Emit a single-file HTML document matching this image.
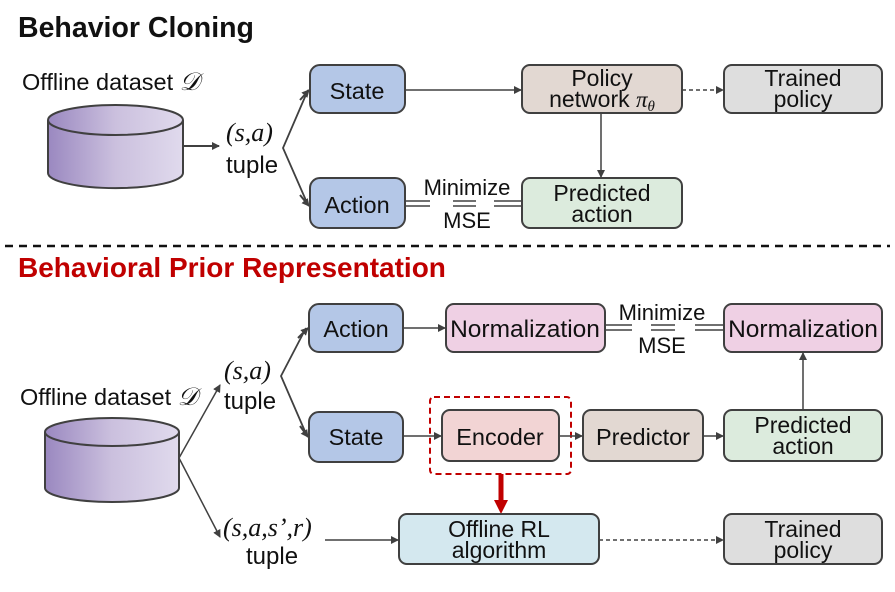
<!DOCTYPE html>
<html><head><meta charset="utf-8"><style>
html,body{margin:0;padding:0;background:#fff;}
svg text{font-family:"Liberation Sans",sans-serif;fill:#111;}
.m{font-family:"Liberation Serif",serif;font-style:italic;}
</style></head><body>
<svg width="895" height="587" viewBox="0 0 895 587" xmlns="http://www.w3.org/2000/svg">
<defs>
<marker id="a" markerWidth="8" markerHeight="8" refX="7" refY="4" orient="auto" markerUnits="userSpaceOnUse"><path d="M0,0 L8,4 L0,8 z" fill="#404040"/></marker>
<linearGradient id="g" x1="0" x2="1" y1="0" y2="0"><stop offset="0" stop-color="#9a88c0"/><stop offset="0.5" stop-color="#cbc0de"/><stop offset="1" stop-color="#e0daed"/></linearGradient>
</defs>
<g stroke="#404040" stroke-width="2" fill="none">
<path d="M48,120 L48,173 A67,15 0 0 0 183,173 L183,120" fill="url(#g)"/>
<ellipse cx="115.5" cy="120" rx="67.5" ry="15" fill="url(#g)"/>
<line x1="183" y1="146" x2="219" y2="146" marker-end="url(#a)"/>
<polyline points="308,90 283,148 308,205" stroke-width="1.8"/>
<line x1="300" y1="100" x2="309" y2="90" marker-end="url(#a)"/>
<line x1="300" y1="195" x2="309" y2="206" marker-end="url(#a)"/>
<rect x="310" y="65" width="95" height="48" rx="10" fill="#b4c7e7"/>
<rect x="522" y="65" width="160" height="48" rx="8" fill="#e2d8d2"/>
<rect x="724" y="65" width="158" height="48" rx="8" fill="#dedede"/>
<line x1="405" y1="90" x2="521" y2="90" stroke-width="1.5" marker-end="url(#a)"/>
<line x1="682" y1="90" x2="723" y2="90" stroke-width="1.5" stroke-dasharray="4,3" marker-end="url(#a)"/>
<line x1="601" y1="113" x2="601" y2="177" stroke-width="1.5" marker-end="url(#a)"/>
<rect x="310" y="178" width="95" height="50" rx="10" fill="#b4c7e7"/>
<rect x="522" y="178" width="160" height="50" rx="8" fill="#dcebdd"/>
<g stroke-width="1.5"><path d="M405,201 H430 M405,206 H430 M453,201 H476 M453,206 H476 M494,201 H522 M494,206 H522"/></g>
<line x1="5" y1="246" x2="890" y2="246" stroke="#111" stroke-width="2.5" stroke-dasharray="8,6"/>
<path d="M45,432 L45,488 A67,14 0 0 0 179,488 L179,432" fill="url(#g)"/>
<ellipse cx="112" cy="432" rx="67" ry="14" fill="url(#g)"/>
<line x1="179" y1="458" x2="220" y2="385" stroke-width="1.5" marker-end="url(#a)"/>
<line x1="179" y1="458" x2="220" y2="537" stroke-width="1.5" marker-end="url(#a)"/>
<polyline points="306,328 281,376 307,436" stroke-width="1.8"/>
<line x1="298" y1="338" x2="308" y2="328" marker-end="url(#a)"/>
<line x1="300" y1="426" x2="308" y2="437" marker-end="url(#a)"/>
<rect x="309" y="304" width="94" height="48" rx="10" fill="#b4c7e7"/>
<rect x="446" y="304" width="159" height="48" rx="8" fill="#efd0e4"/>
<rect x="724" y="304" width="158" height="48" rx="8" fill="#efd0e4"/>
<line x1="403" y1="328" x2="445" y2="328" stroke-width="1.5" marker-end="url(#a)"/>
<g stroke-width="1.5"><path d="M605,325 H632 M605,330 H632 M651,325 H675 M651,330 H675 M695,325 H724 M695,330 H724"/></g>
<rect x="309" y="412" width="94" height="50" rx="10" fill="#b4c7e7"/>
<rect x="442" y="410" width="117" height="51" rx="8" fill="#f2d4d4"/>
<rect x="583" y="410" width="120" height="51" rx="8" fill="#e2d8d2"/>
<rect x="724" y="410" width="158" height="51" rx="8" fill="#dcebdd"/>
<rect x="430" y="397" width="141" height="77" rx="4" stroke="#c00000" stroke-dasharray="6,4"/>
<line x1="403" y1="436" x2="441" y2="436" stroke-width="1.5" marker-end="url(#a)"/>
<line x1="559" y1="436" x2="582" y2="436" stroke-width="1.5" marker-end="url(#a)"/>
<line x1="703" y1="436" x2="723" y2="436" stroke-width="1.5" marker-end="url(#a)"/>
<line x1="803" y1="410" x2="803" y2="353" stroke-width="1.5" marker-end="url(#a)"/>
<line x1="501" y1="474" x2="501" y2="502" stroke="#c00000" stroke-width="5"/>
<path d="M494,500 L508,500 L501,514 z" fill="#c00000" stroke="none"/>
<rect x="399" y="514" width="200" height="50" rx="8" fill="#d4e8ef"/>
<rect x="724" y="514" width="158" height="50" rx="8" fill="#dedede"/>
<line x1="325" y1="540" x2="398" y2="540" stroke-width="1.5" marker-end="url(#a)"/>
<line x1="599" y1="540" x2="723" y2="540" stroke-width="1.5" stroke-dasharray="4,3" marker-end="url(#a)"/>
</g>
<text x="18" y="37" font-size="28.5" font-weight="bold">Behavior Cloning</text>
<text x="22" y="90" font-size="23.5">Offline dataset <tspan class="m" font-size="25">𝒟</tspan></text>
<text x="226" y="141" font-size="26" class="m">(s,a)</text>
<text x="226" y="173" font-size="24">tuple</text>
<text x="357" y="99" font-size="23.5" text-anchor="middle">State</text>
<text x="602" y="86" font-size="23" text-anchor="middle">Policy</text>
<text x="602" y="107" font-size="23" text-anchor="middle">network <tspan class="m">π</tspan><tspan class="m" font-size="15" dy="4">θ</tspan></text>
<text x="803" y="86" font-size="23" text-anchor="middle">Trained</text>
<text x="803" y="107" font-size="23" text-anchor="middle">policy</text>
<text x="357" y="213" font-size="23.5" text-anchor="middle">Action</text>
<text x="602" y="201" font-size="23" text-anchor="middle">Predicted</text>
<text x="602" y="222" font-size="23" text-anchor="middle">action</text>
<text x="467" y="195" font-size="22" text-anchor="middle">Minimize</text>
<text x="467" y="228" font-size="22" text-anchor="middle">MSE</text>
<text x="18" y="277" font-size="28" font-weight="bold" style="fill:#c00000">Behavioral Prior Representation</text>
<text x="20" y="405" font-size="23.5">Offline dataset <tspan class="m" font-size="25">𝒟</tspan></text>
<text x="224" y="379" font-size="26" class="m">(s,a)</text>
<text x="224" y="409" font-size="24">tuple</text>
<text x="356" y="337" font-size="23.5" text-anchor="middle">Action</text>
<text x="525" y="337" font-size="24.5" text-anchor="middle">Normalization</text>
<text x="803" y="337" font-size="24.5" text-anchor="middle">Normalization</text>
<text x="662" y="320" font-size="22" text-anchor="middle">Minimize</text>
<text x="662" y="353" font-size="22" text-anchor="middle">MSE</text>
<text x="356" y="445" font-size="23.5" text-anchor="middle">State</text>
<text x="500" y="445" font-size="23.5" text-anchor="middle">Encoder</text>
<text x="643" y="445" font-size="23.5" text-anchor="middle">Predictor</text>
<text x="803" y="433" font-size="23" text-anchor="middle">Predicted</text>
<text x="803" y="454" font-size="23" text-anchor="middle">action</text>
<text x="223" y="536" font-size="26" class="m">(s,a,s’,r)</text>
<text x="246" y="564" font-size="24">tuple</text>
<text x="499" y="537" font-size="23" text-anchor="middle">Offline RL</text>
<text x="499" y="558" font-size="23" text-anchor="middle">algorithm</text>
<text x="803" y="537" font-size="23" text-anchor="middle">Trained</text>
<text x="803" y="558" font-size="23" text-anchor="middle">policy</text>
</svg>
</body></html>
